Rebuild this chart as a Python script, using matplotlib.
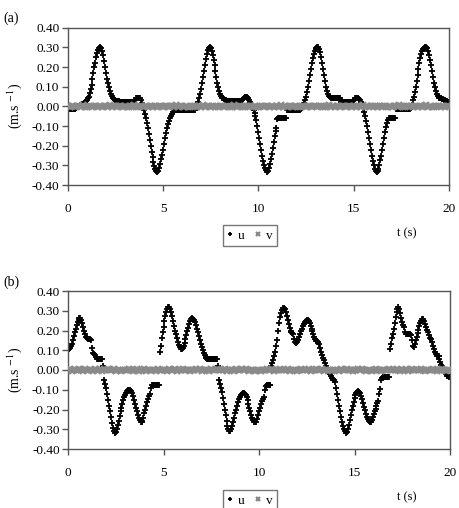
import numpy as np
import matplotlib
matplotlib.use("Agg")
import matplotlib.pyplot as plt
from matplotlib.ticker import FormatStrFormatter

plt.rcParams['font.family'] = ['Liberation Serif', 'DejaVu Serif']
plt.rcParams['mathtext.fontset'] = 'stix'

# sample times of u (every 0.05 s) and of v (every 0.1 s)
t_u = np.round(np.arange(401) * 0.05, 2)
t_v = np.round(np.arange(201) * 0.1, 1)

# panel (a): u velocity (m/s), one row per second
u_a = [
    -.015, -.015, -.015, -.015, -.015, -.015, -.015, -.015, -.015, -.01, -.005, 0, 0, .005, .005, .01, .01, .015, .02, .025,
    .03, .04, .05, .07, .09, .11, .14, .17, .20, .22, .25, .27, .285, .295, .30, .295, .28, .26, .23, .20,
    .17, .14, .12, .10, .08, .065, .055, .045, .04, .035, .03, .028, .025, .025, .025, .022, .022, .02, .02, .02,
    .02, .02, .02, .02, .02, .02, .02, .02, .02, .02, .02, .03, .04, .045, .045, .045, .04, .03, .015, 0,
    -.02, -.04, -.06, -.085, -.11, -.14, -.17, -.20, -.23, -.26, -.285, -.305, -.32, -.33, -.335, -.33, -.315, -.295, -.27, -.245,
    -.22, -.19, -.16, -.135, -.11, -.09, -.075, -.06, -.05, -.04, -.03, -.025, -.02, -.02, -.02, -.02, -.02, -.02, -.02, -.02,
    -.02, -.02, -.02, -.02, -.02, -.02, -.02, -.02, -.02, -.02, -.02, -.02, -.02, -.02, -.02, -.01, 0, .02, .04, .065,
    .09, .12, .15, .18, .21, .24, .265, .285, .295, .30, .295, .28, .26, .235, .21, .18, .15, .12, .10, .08,
    .065, .055, .045, .04, .035, .03, .03, .028, .025, .025, .025, .025, .025, .025, .025, .025, .025, .025, .025, .025,
    .025, .025, .028, .032, .038, .045, .05, .05, .048, .04, .03, .02, .01, 0, -.01, -.02, -.035, -.05, -.07, -.10,
    -.13, -.16, -.19, -.22, -.25, -.28, -.30, -.315, -.325, -.335, -.33, -.315, -.295, -.27, -.24, -.21, -.18, -.15, -.125, -.11,
    -.065, -.06, -.06, -.06, -.06, -.06, -.06, -.06, -.06, -.06, -.02, -.02, -.02, -.02, -.02, -.02, -.02, -.02, -.02, -.02,
    -.02, -.02, -.02, -.02, -.02, -.015, -.01, 0, .015, .03, .05, .075, .10, .13, .16, .19, .22, .245, .265, .28,
    .29, .295, .30, .30, .29, .275, .25, .22, .19, .16, .13, .10, .08, .065, .055, .048, .045, .04, .04, .04,
    .04, .04, .04, .04, .04, .04, .04, .02, .02, .02, .02, .02, .02, .02, .02, .02, .02, .02, .02, .025,
    .03, .04, .045, .045, .045, .04, .035, .03, .02, .005, -.01, -.03, -.05, -.075, -.10, -.13, -.16, -.19, -.22, -.25,
    -.28, -.30, -.32, -.33, -.335, -.33, -.32, -.30, -.275, -.25, -.22, -.19, -.16, -.13, -.105, -.085, -.07, -.06, -.06, -.06,
    -.06, -.06, -.06, -.06, -.015, -.015, -.015, -.015, -.015, -.015, -.015, -.015, -.015, -.015, -.015, -.015, -.015, -.015, -.015, -.015,
    -.01, .005, .03, .05, .075, .10, .13, .16, .19, .22, .245, .265, .28, .29, .295, .30, .30, .295, .28, .26,
    .235, .21, .18, .15, .12, .10, .08, .065, .055, .05, .045, .04, .04, .035, .035, .03, .03, .025, .025, .02,
    .02,
]

# panel (b): u velocity (m/s)
u_b = [
    .10, .105, .11, .12, .13, .15, .17, .19, .21, .23, .245, .255, .262, .265, .255, .24, .22, .20, .18, .165,
    .16, .158, .155, .155, .15, .11, .085, .08, .075, .065, .058, .055, .055, .055, .055, .055, .055, .02, -.05, -.07,
    -.09, -.12, -.15, -.18, -.21, -.24, -.27, -.295, -.31, -.32, -.315, -.30, -.28, -.26, -.235, -.21, -.19, -.17, -.15, -.135,
    -.125, -.115, -.108, -.103, -.10, -.10, -.105, -.115, -.13, -.15, -.17, -.19, -.21, -.23, -.245, -.255, -.262, -.265, -.26, -.245,
    -.22, -.20, -.18, -.16, -.145, -.13, -.12, -.09, -.078, -.076, -.076, -.076, -.076, -.076, -.076, -.076, .09, .12, .16, .19,
    .22, .25, .275, .295, .31, .32, .32, .31, .295, .275, .25, .225, .20, .18, .16, .14, .125, .115, .108, .105,
    .11, .12, .135, .155, .175, .195, .215, .235, .25, .258, .262, .26, .255, .245, .23, .21, .19, .17, .15, .13,
    .115, .10, .085, .075, .068, .062, .058, .055, .055, .055, .055, .055, .055, .055, .055, .055, .055, .02, -.05, -.07,
    -.09, -.11, -.14, -.17, -.20, -.23, -.26, -.285, -.30, -.31, -.31, -.30, -.285, -.265, -.245, -.22, -.20, -.18, -.16, -.145,
    -.135, -.125, -.12, -.118, -.118, -.12, -.125, -.135, -.15, -.17, -.19, -.21, -.23, -.245, -.255, -.262, -.265, -.262, -.25, -.23,
    -.21, -.19, -.17, -.155, -.145, -.135, -.10, -.08, -.078, -.078, -.078, -.078, -.078, .02, .035, .05, .07, .09, .12, .15,
    .20, .24, .27, .29, .305, .315, .315, .31, .295, .275, .255, .235, .215, .20, .19, .185, .18, .155, .14, .135,
    .14, .15, .165, .18, .195, .21, .225, .235, .245, .25, .255, .255, .25, .24, .225, .21, .195, .18, .165, .155,
    .148, .145, .142, .13, .11, .09, .075, .062, .05, .035, .02, .01, 0, -.01, -.02, -.03, -.038, -.045, -.05, -.05,
    -.06, -.09, -.12, -.15, -.18, -.21, -.24, -.265, -.285, -.30, -.31, -.318, -.315, -.30, -.28, -.255, -.23, -.205, -.18, -.16,
    -.14, -.125, -.115, -.11, -.108, -.11, -.118, -.13, -.145, -.165, -.185, -.205, -.225, -.24, -.25, -.258, -.262, -.262, -.255, -.24,
    -.225, -.21, -.195, -.18, -.165, -.155, -.12, -.095, -.05, -.038, -.037, -.037, -.037, -.037, -.037, -.037, -.037, .105, .13, .16,
    .18, .21, .24, .27, .295, .31, .32, .31, .29, .265, .245, .23, .22, .19, .18, .18, .18, .18, .18, .178,
    .15, .12, .115, .13, .15, .165, .185, .205, .225, .24, .25, .257, .258, .25, .235, .22, .205, .19, .175, .16,
    .155, .14, .12, .105, .09, .08, .072, .072, .07, .055, .04, .025, .018, .01, 0, -.01, -.02, -.028, -.032, -.034,
    -.035,
]

# v velocity, in thousandths of m/s
v_a_milli = [
    3, -2, 1, 4, -3, 0, 2, -4, 5, -1, -2, 3, 0, -5, 2, 1, -3, 4, -1, 2,
    0, -3, 5, -2, 1, 3, -4, 0, 2, -1, 4, -2, -3, 1, 0, 5, -1, -4, 2, 3,
    -2, 1, -5, 3, 0, -1, 4, -3, 2, 1, -1, 2, 3, -4, 0, 1, -2, 5, -3, 0,
    2, -1, 4, -2, -3, 1, 3, 0, -4, 2, -1, 5, -2, 0, 3, -3, 1, -1, 4, -2,
    0, 2, -4, 3, 1, -2, -1, 5, 0, -3, 2, 4, -1, -3, 1, 0, 3, -5, 2, -1,
    -2, 1, 4, -3, 0, 2, -1, 3, -4, 1, 0, -2, 5, -1, 3, -3, 1, 2, -4, 0,
    3, -1, -2, 4, 0, -3, 2, 1, -5, 3, 1, -2, 0, 4, -1, -3, 2, 5, -2, 0,
    -4, 1, 3, -1, 2, 0, -3, 4, 1, -2, 3, -4, 0, 2, -1, 5, -2, 1, -3, 0,
    2, 3, -1, -4, 1, 0, 4, -2, -3, 2, -1, 0, 3, -2, 5, 1, -3, -1, 2, 4,
    0, -3, 1, 2, -4, 3, -1, 0, 5, -2, 1, -2, -3, 4, 0, 2, -1, 3, -5, 1,
    2,
]
v_b_milli = [
    -1, 4, -3, 2, 0, -2, 5, 1, -4, 3, 2, -1, 0, -3, 4, 1, -2, 3, -5, 0,
    1, 3, -2, -1, 5, -4, 0, 2, -3, 1, -2, 0, 4, -1, -3, 2, 3, -5, 1, 0,
    3, -4, 1, 2, -1, 0, -3, 5, 2, -2, 0, 1, -4, 3, 2, -1, 4, -3, 0, -2,
    5, -1, 2, 0, -3, 1, -2, 4, -1, 3, -3, 2, 0, 1, -4, 5, -2, -1, 3, 0,
    1, -2, 4, -3, 0, 2, -1, -4, 3, 1, -1, 3, -2, 5, 0, -3, 1, 2, -4, 0,
    2, -3, 1, 0, 4, -1, -2, 3, -5, 2, 0, 4, -1, -2, 1, 3, -4, 0, 2, -1,
    -3, 1, 5, -2, 0, -1, 3, -4, 2, 1, 4, -2, 0, 3, -3, 1, -1, 2, -5, 0,
    1, 2, -4, 3, -1, 0, 5, -2, 1, -3, 0, -1, 3, -2, 4, 1, -3, 2, 0, -4,
    2, 5, -1, 0, -3, 2, 1, -2, 4, -1, -2, 0, 3, 1, -4, 2, -1, 5, -3, 0,
    3, -2, 1, -1, 0, 4, -2, -3, 2, 1, -1, 3, 0, -4, 2, -2, 5, 1, -3, 0,
    1,
]

x_ticks = [0, 5, 10, 15, 20]
y_ticks = [-0.4, -0.3, -0.2, -0.1, 0.0, 0.1, 0.2, 0.3, 0.4]

W, H = 459, 508
fig = plt.figure(figsize=(W / 100, H / 100), dpi=100)


def panel(rect, u, v_milli, tag, tag_y, legend_y):
    ax = fig.add_axes(rect)
    ax.plot(t_u, u, linestyle='none', marker='+', color='black',
            markersize=4.5, markeredgewidth=1.3, label='u', zorder=2)
    ax.plot(t_v, np.array(v_milli) / 1000.0, linestyle='none', marker='x',
            color='#8a8a8a', markersize=4.5, markeredgewidth=1.6, label='v', zorder=3)
    ax.set_xlim(0, 20)
    ax.set_ylim(-0.4, 0.4)
    ax.set_xticks(x_ticks)
    ax.set_yticks(y_ticks)
    ax.yaxis.set_major_formatter(FormatStrFormatter('%.2f'))
    ax.tick_params(axis='x', direction='out', length=4, width=1, pad=9,
                   labelsize=9.5, color='#555555')
    ax.tick_params(axis='y', direction='out', length=4, width=1, pad=2,
                   labelsize=9.5, color='#555555')
    for s in ax.spines.values():
        s.set_color('#555555')
        s.set_linewidth(1)
    fig.text(3 / W, 1 - tag_y / H, tag, fontsize=10, va='center', ha='left')
    y_mid = rect[1] + rect[3] / 2
    fig.text(15 / W, y_mid, '(m.s $^{-1}$)', rotation=90, fontsize=10,
             va='center', ha='center')
    fig.text(407 / W, rect[1] - 48 / H, 't (s)', fontsize=9,
             va='center', ha='center')
    fig.legend(*ax.get_legend_handles_labels(), loc='center',
               bbox_to_anchor=(250 / W, 1 - legend_y / H), ncol=2,
               fontsize=9.5, frameon=True, fancybox=False, edgecolor='#555555',
               handlelength=0.4, handletextpad=0.4, columnspacing=0.8,
               borderpad=0.35, markerscale=0.7)
    return ax


panel([67.7 / W, 1 - 185 / H, 381.3 / W, 157.3 / H], u_a, v_a_milli, '(a)', 18, 235.5)
panel([68 / W, 1 - 449 / H, 382 / W, 158 / H], u_b, v_b_milli, '(b)', 282, 500.5)

fig.savefig('out.png', dpi=100)
